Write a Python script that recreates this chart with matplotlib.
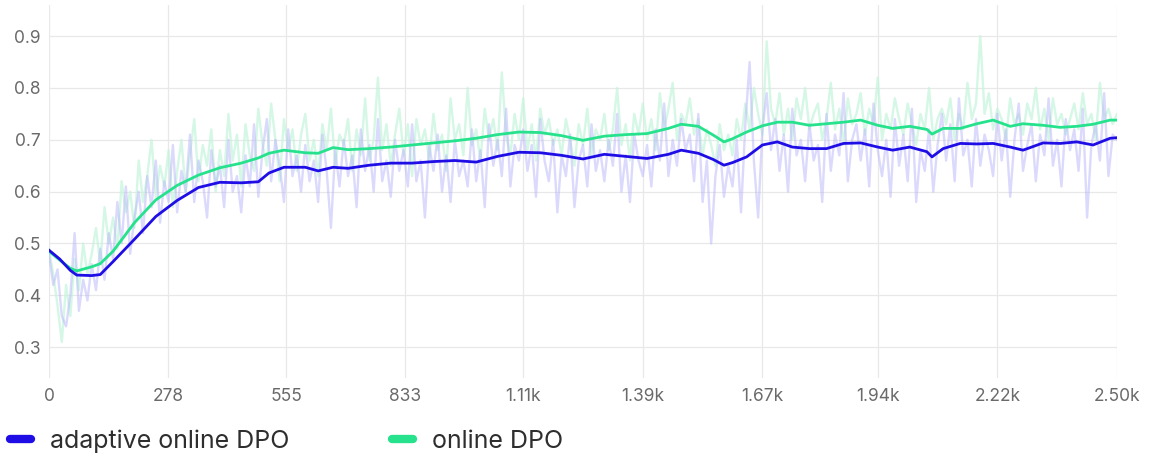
import numpy as np
import matplotlib.pyplot as plt
from matplotlib.lines import Line2D

plt.rcParams['font.family'] = ['Inter', 'DejaVu Sans']

# raw values, one every 10 steps
raw_steps = np.arange(0, 2501, 10)

adaptive_raw = [
    0.48, 0.42, 0.45, 0.36, 0.34, 0.40, 0.52, 0.37, 0.43, 0.39,
    0.46, 0.41, 0.49, 0.43, 0.52, 0.47, 0.58, 0.50, 0.61, 0.48,
    0.55, 0.60, 0.52, 0.63, 0.57, 0.66, 0.54, 0.62, 0.58, 0.69,
    0.56, 0.64, 0.60, 0.71, 0.58, 0.66, 0.62, 0.55, 0.68, 0.61,
    0.65, 0.57, 0.70, 0.60, 0.63, 0.56, 0.67, 0.61, 0.73, 0.59,
    0.68, 0.74, 0.62, 0.70, 0.65, 0.58, 0.72, 0.63, 0.67, 0.60,
    0.69, 0.62, 0.66, 0.58, 0.71, 0.64, 0.53, 0.68, 0.61, 0.70,
    0.63, 0.67, 0.57, 0.72, 0.64, 0.69, 0.60, 0.74, 0.62, 0.66,
    0.59, 0.70, 0.64, 0.68, 0.61, 0.73, 0.62, 0.66, 0.55, 0.69,
    0.64, 0.71, 0.60, 0.67, 0.58, 0.70, 0.63, 0.66, 0.61, 0.72,
    0.62, 0.68, 0.57, 0.73, 0.65, 0.70, 0.63, 0.76, 0.61, 0.69,
    0.66, 0.72, 0.64, 0.69, 0.59, 0.74, 0.66, 0.62, 0.70, 0.56,
    0.67, 0.63, 0.71, 0.57, 0.66, 0.69, 0.61, 0.73, 0.64, 0.68,
    0.62, 0.70, 0.65, 0.75, 0.60, 0.67, 0.58, 0.71, 0.66, 0.63,
    0.69, 0.61, 0.72, 0.66, 0.77, 0.63, 0.70, 0.65, 0.74, 0.68,
    0.71, 0.62, 0.75, 0.58, 0.66, 0.50, 0.63, 0.69, 0.59, 0.65,
    0.61, 0.70, 0.56, 0.73, 0.85, 0.66, 0.55, 0.72, 0.79, 0.68,
    0.74, 0.64, 0.71, 0.60, 0.76, 0.67, 0.70, 0.62, 0.73, 0.66,
    0.69, 0.58, 0.75, 0.64, 0.71, 0.67, 0.79, 0.62, 0.70, 0.73,
    0.66, 0.72, 0.61, 0.77, 0.68, 0.63, 0.70, 0.59, 0.74, 0.65,
    0.71, 0.62, 0.76, 0.58, 0.68, 0.64, 0.72, 0.60, 0.69, 0.75,
    0.66, 0.73, 0.62, 0.78, 0.67, 0.70, 0.61, 0.74, 0.65, 0.71,
    0.68, 0.63, 0.75, 0.66, 0.72, 0.59, 0.70, 0.77, 0.64, 0.69,
    0.73, 0.62, 0.71, 0.67, 0.78, 0.65, 0.70, 0.61, 0.74, 0.68,
    0.72, 0.64, 0.76, 0.55, 0.69, 0.73, 0.66, 0.79, 0.63, 0.71,
    0.70,
]

online_raw = [
    0.49, 0.44, 0.38, 0.31, 0.42, 0.36, 0.47, 0.41, 0.50, 0.44,
    0.48, 0.53, 0.46, 0.57, 0.50, 0.55, 0.49, 0.62, 0.56, 0.60,
    0.53, 0.66, 0.58, 0.63, 0.70, 0.59, 0.65, 0.61, 0.68, 0.57,
    0.64, 0.70, 0.60, 0.67, 0.74, 0.62, 0.69, 0.65, 0.72, 0.60,
    0.68, 0.63, 0.75, 0.66, 0.71, 0.61, 0.73, 0.67, 0.64, 0.76,
    0.69, 0.65, 0.77, 0.70, 0.62, 0.74, 0.68, 0.72, 0.64, 0.71,
    0.75, 0.66, 0.70, 0.63, 0.73, 0.68, 0.76, 0.65, 0.71, 0.69,
    0.74, 0.64, 0.72, 0.67, 0.78, 0.66, 0.70, 0.82, 0.68, 0.73,
    0.65, 0.71, 0.76, 0.67, 0.73, 0.63, 0.74, 0.69, 0.72, 0.66,
    0.75, 0.68, 0.71, 0.64, 0.78, 0.70, 0.73, 0.67, 0.80, 0.69,
    0.72, 0.66, 0.76, 0.70, 0.74, 0.68, 0.83, 0.71, 0.67, 0.75,
    0.70, 0.78, 0.68, 0.73, 0.66, 0.76, 0.71, 0.74, 0.69, 0.72,
    0.67, 0.74, 0.70, 0.65, 0.73, 0.69, 0.76, 0.67, 0.72, 0.70,
    0.75, 0.68, 0.72, 0.80, 0.69, 0.73, 0.66, 0.75, 0.71, 0.77,
    0.70, 0.74, 0.68, 0.79, 0.72, 0.76, 0.81, 0.70, 0.75, 0.73,
    0.78, 0.71, 0.74, 0.67, 0.72, 0.69, 0.65, 0.73, 0.68, 0.71,
    0.67, 0.74, 0.70, 0.77, 0.72, 0.80, 0.75, 0.71, 0.89, 0.76,
    0.73, 0.79, 0.71, 0.76, 0.70, 0.78, 0.74, 0.80, 0.72, 0.75,
    0.77, 0.70, 0.74, 0.81, 0.72, 0.76, 0.69, 0.78, 0.73, 0.75,
    0.79, 0.71, 0.76, 0.73, 0.82, 0.70, 0.75, 0.72, 0.78, 0.74,
    0.71, 0.77, 0.73, 0.69, 0.75, 0.72, 0.80, 0.70, 0.74, 0.76,
    0.73, 0.78, 0.70, 0.75, 0.72, 0.81, 0.74, 0.77, 0.90, 0.75,
    0.79, 0.72, 0.76, 0.74, 0.70, 0.78, 0.73, 0.75, 0.71, 0.77,
    0.74, 0.80, 0.72, 0.76, 0.70, 0.78, 0.73, 0.75, 0.71, 0.74,
    0.77, 0.72, 0.79, 0.73, 0.75, 0.70, 0.81, 0.74, 0.76, 0.73,
    0.75,
]

# smoothed curves
smooth_steps = [0, 25, 50, 65, 100, 120, 150, 200, 250, 300, 350, 400, 450,
                490, 515, 550, 600, 630, 665, 700, 750, 800, 850, 900, 950,
                1000, 1050, 1100, 1150, 1200, 1250, 1300, 1350, 1400, 1450,
                1480, 1520, 1555, 1580, 1600, 1633, 1670, 1705, 1740, 1780,
                1820, 1860, 1900, 1940, 1975, 2015, 2055, 2067, 2093, 2133,
                2172, 2210, 2250, 2280, 2327, 2367, 2406, 2444, 2484, 2500]

adaptive_smooth = [0.487, 0.470, 0.448, 0.439, 0.438, 0.440, 0.465, 0.508,
                   0.552, 0.583, 0.608, 0.618, 0.617, 0.619, 0.636, 0.647,
                   0.647, 0.640, 0.647, 0.645, 0.651, 0.655, 0.655, 0.658,
                   0.660, 0.657, 0.668, 0.676, 0.675, 0.670, 0.663, 0.672,
                   0.668, 0.664, 0.672, 0.680, 0.674, 0.662, 0.651, 0.656,
                   0.667, 0.690, 0.696, 0.686, 0.683, 0.683, 0.693, 0.694,
                   0.686, 0.680, 0.686, 0.677, 0.667, 0.683, 0.693, 0.692,
                   0.693, 0.686, 0.680, 0.694, 0.693, 0.696, 0.690, 0.703,
                   0.704]

online_smooth = [0.485, 0.468, 0.452, 0.447, 0.455, 0.461, 0.485, 0.540,
                 0.584, 0.612, 0.632, 0.646, 0.655, 0.665, 0.674, 0.680,
                 0.675, 0.674, 0.685, 0.681, 0.683, 0.686, 0.690, 0.694,
                 0.698, 0.703, 0.710, 0.715, 0.714, 0.708, 0.699, 0.707,
                 0.710, 0.712, 0.722, 0.730, 0.726, 0.709, 0.696, 0.702,
                 0.715, 0.727, 0.734, 0.734, 0.728, 0.731, 0.734, 0.738,
                 0.728, 0.722, 0.726, 0.720, 0.711, 0.722, 0.722, 0.731,
                 0.738, 0.726, 0.731, 0.728, 0.724, 0.726, 0.730, 0.738,
                 0.738]

x_ticks = [0, 278, 555, 833, 1110, 1390, 1670, 1940, 2220, 2500]
x_labels = ['0', '278', '555', '833', '1.11k', '1.39k', '1.67k', '1.94k',
            '2.22k', '2.50k']
y_ticks = [0.3, 0.4, 0.5, 0.6, 0.7, 0.8, 0.9]

blue = '#1f0de6'
green = '#26e28c'

fig = plt.figure(figsize=(11.5, 4.59), dpi=100)
ax = fig.add_axes([0.0426, 0.176, 0.9287, 0.813])

ax.plot(raw_steps, online_raw, color='#c4f4dc', lw=1.7, alpha=0.7, zorder=1)
ax.plot(raw_steps, adaptive_raw, color='#b5b2fa', lw=1.7, alpha=0.48, zorder=2)
ax.plot(smooth_steps, online_smooth, color=green, lw=2.0, zorder=3)
ax.plot(smooth_steps, adaptive_smooth, color=blue, lw=2.0, zorder=4)

ax.set_xlim(0, 2500)
ax.set_ylim(0.24, 0.96)
ax.set_xticks(x_ticks)
ax.set_xticklabels(x_labels)
ax.set_yticks(y_ticks)
ax.set_yticklabels([f'{v:.1f}' for v in y_ticks])
ax.tick_params(length=0, labelsize=12.5, labelcolor='#6a6a6a', pad=6)
ax.tick_params(axis='x', pad=7)
ax.grid(True, color='#e8e8e8', lw=0.9)
ax.set_axisbelow(True)
for s in ax.spines.values():
    s.set_visible(False)

handles = [Line2D([], [], color=blue, lw=6, solid_capstyle='round'),
           Line2D([], [], color=green, lw=6, solid_capstyle='round')]
fig.legend(handles, ['adaptive online DPO', 'online DPO'], loc='lower left',
           bbox_to_anchor=(0.003, 0.0), ncol=2, frameon=False, fontsize=18,
           borderaxespad=0, borderpad=0.25,
           handlelength=0.85, handletextpad=0.75, columnspacing=4.1,
           labelcolor='#2e2e2e')

fig.savefig('out.png', dpi=100)
